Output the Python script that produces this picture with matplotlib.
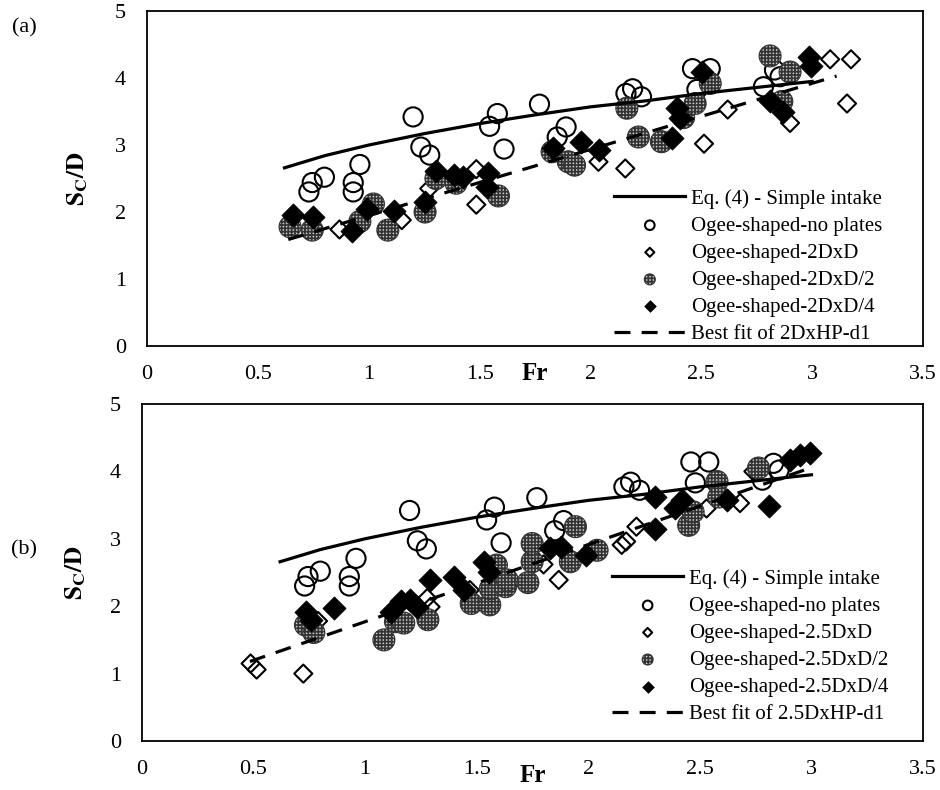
import matplotlib
matplotlib.use("Agg")
import matplotlib.pyplot as plt

plt.rcParams['font.family'] = ['Liberation Serif', 'DejaVu Serif']
plt.rcParams['mathtext.fontset'] = 'stix'
plt.rcParams['hatch.linewidth'] = 1.2
plt.rcParams['hatch.color'] = 'black'

# Eq. (4) - simple intake
eq_x = [0.62, 0.8, 1.0, 1.25, 1.5, 1.75, 2.0, 2.25, 2.5, 2.75, 3.0]
eq_y = [2.66, 2.84, 3.00, 3.17, 3.32, 3.45, 3.57, 3.66, 3.77, 3.86, 3.95]

# ogee-shaped, no plates (same in both panels)
np_x = [0.73, 0.745, 0.80, 0.93, 0.93, 0.96, 1.20, 1.235, 1.275, 1.545, 1.58, 1.61,
        1.77, 1.85, 1.89, 2.16, 2.19, 2.23, 2.46, 2.54, 2.48, 2.78, 2.83, 2.855]
np_y = [2.30, 2.44, 2.52, 2.30, 2.44, 2.71, 3.42, 2.97, 2.85, 3.28, 3.47, 2.94,
        3.61, 3.12, 3.27, 3.77, 3.84, 3.72, 4.14, 4.14, 3.83, 3.87, 4.12, 4.02]

# panel (a): 2DxD plates
a_full_x = [0.868, 1.149, 1.273, 1.485, 1.485, 2.036, 2.157, 2.512, 2.619, 2.90, 3.081, 3.175, 3.157]
a_full_y = [1.74, 1.88, 2.35, 2.64, 2.11, 2.75, 2.65, 3.02, 3.53, 3.33, 4.28, 4.28, 3.62]
a_half_x = [0.645, 0.745, 0.96, 1.021, 1.086, 1.254, 1.303, 1.394, 1.585, 1.827, 1.90,
            1.928, 2.164, 2.216, 2.32, 2.42, 2.472, 2.54, 2.81, 2.863, 2.90]
a_half_y = [1.78, 1.73, 1.86, 2.12, 1.73, 2.00, 2.50, 2.43, 2.24, 2.90, 2.75,
            2.70, 3.55, 3.12, 3.05, 3.41, 3.62, 3.92, 4.33, 3.65, 4.09]
a_quar_x = [0.658, 0.749, 0.923, 0.991, 1.112, 1.253, 1.303, 1.384, 1.424, 1.54, 1.535,
            1.833, 1.958, 2.039, 2.366, 2.392, 2.402, 2.502, 2.81, 2.87, 2.986, 2.996]
a_quar_y = [1.96, 1.93, 1.72, 2.05, 2.02, 2.15, 2.62, 2.55, 2.53, 2.59, 2.38,
            2.95, 3.05, 2.93, 3.10, 3.55, 3.40, 4.09, 3.65, 3.50, 4.32, 4.18]
a_fit_x = [0.637, 3.11]
a_fit_y = [1.59, 4.03]

# panel (b): 2.5DxD plates
b_full_x = [0.488, 0.515, 0.724, 0.79, 1.279, 1.294, 1.47, 1.80, 1.868, 2.15, 2.17,
            2.216, 2.53, 2.68, 2.74]
b_full_y = [1.15, 1.06, 1.00, 1.78, 2.12, 1.99, 2.24, 2.62, 2.39, 2.91, 2.96,
            3.18, 3.45, 3.53, 4.00]
b_half_x = [0.734, 0.771, 1.085, 1.137, 1.174, 1.282, 1.476, 1.559, 1.562, 1.589, 1.63,
            1.637, 1.73, 1.749, 1.749, 1.92, 1.943, 2.04, 2.45, 2.47, 2.577, 2.585, 2.763]
b_half_y = [1.72, 1.61, 1.50, 1.77, 1.75, 1.80, 2.04, 2.02, 2.26, 2.61, 2.29,
            2.39, 2.35, 2.66, 2.93, 2.66, 3.18, 2.83, 3.20, 3.40, 3.85, 3.62, 4.05]
b_quar_x = [0.734, 0.757, 0.861, 1.115, 1.16, 1.204, 1.234, 1.29, 1.40, 1.443, 1.532,
            1.555, 1.83, 1.876, 1.99, 2.30, 2.30, 2.39, 2.42, 2.62, 2.81, 2.905, 2.95, 2.995]
b_quar_y = [1.92, 1.80, 1.97, 1.92, 2.07, 2.09, 1.99, 2.39, 2.44, 2.24, 2.66,
            2.51, 2.86, 2.88, 2.76, 3.62, 3.15, 3.45, 3.58, 3.58, 3.48, 4.17, 4.24, 4.27]
b_fit_x = [0.485, 2.994]
b_fit_y = [1.18, 4.05]

x_ticks = [0, 0.5, 1, 1.5, 2, 2.5, 3, 3.5]
x_tick_labels = ['0', '0.5', '1', '1.5', '2', '2.5', '3', '3.5']
y_ticks = [0, 1, 2, 3, 4, 5]


def panel(ax, full, half, quar, fit, tag):
    ax.scatter(np_x, np_y, s=190, marker='o', facecolors='none', edgecolors='black',
               linewidths=1.5, label='Ogee-shaped-no plates', zorder=2)
    ax.scatter(full[0], full[1], s=85, marker='D', facecolors='none', edgecolors='black',
               linewidths=1.5, label='Ogee-shaped-' + tag, zorder=3)
    ax.scatter(half[0], half[1], s=250, marker='o', facecolors='#c8c8c8', edgecolors='#333333',
               linewidths=0.8, hatch='+++++', label='Ogee-shaped-' + tag + '/2', zorder=4)
    ax.scatter(quar[0], quar[1], s=140, marker='D', facecolors='black', edgecolors='black',
               linewidths=0.5, label='Ogee-shaped-' + tag + '/4', zorder=5)
    ax.plot(eq_x, eq_y, color='black', lw=2.3, label='Eq. (4) - Simple intake', zorder=6)
    ax.plot(fit[0], fit[1], color='black', lw=2.3, dashes=(5, 3.5),
            label='Best fit of ' + tag.replace('xD', 'xHP-d1'), zorder=6)

    ax.set_xlim(0, 3.5)
    ax.set_ylim(0, 5)
    ax.set_xticks(x_ticks)
    ax.set_xticklabels(x_tick_labels)
    ax.set_yticks(y_ticks)
    ax.tick_params(axis='both', length=0, labelsize=16)
    ax.tick_params(axis='x', pad=14)
    ax.tick_params(axis='y', pad=15)
    for sp in ax.spines.values():
        sp.set_linewidth(1.3)

    ax.set_ylabel(r'$\mathbf{S_C/D}$', fontsize=18)
    ax.set_xlabel('Fr', fontsize=18, fontweight='bold')
    ax.xaxis.label.set_va('center')

    h, lab = ax.get_legend_handles_labels()
    order = [4, 0, 1, 2, 3, 5]
    return [h[i] for i in order], [lab[i] for i in order]


fig = plt.figure(figsize=(9.4, 7.9), dpi=100)
ax1 = fig.add_axes([0.1564, 0.562, 0.8256, 0.424])
ax2 = fig.add_axes([0.1507, 0.062, 0.8313, 0.4266])

h, lab = panel(ax1, (a_full_x, a_full_y), (a_half_x, a_half_y), (a_quar_x, a_quar_y),
               (a_fit_x, a_fit_y), '2DxD')
ax1.legend(h, lab, loc='lower right', bbox_to_anchor=(0.948, 0.006), frameon=False,
           fontsize=15, markerscale=0.5, handlelength=3.4, handletextpad=0.3,
           labelspacing=0.36, borderpad=0, borderaxespad=0)
ax1.xaxis.set_label_coords(0.5, -0.081)
ax1.yaxis.set_label_coords(-0.073, 0.5)

h, lab = panel(ax2, (b_full_x, b_full_y), (b_half_x, b_half_y), (b_quar_x, b_quar_y),
               (b_fit_x, b_fit_y), '2.5DxD')
ax2.legend(h, lab, loc='lower right', bbox_to_anchor=(0.956, 0.05), frameon=False,
           fontsize=15, markerscale=0.5, handlelength=3.4, handletextpad=0.3,
           labelspacing=0.36, borderpad=0, borderaxespad=0)
ax2.xaxis.set_label_coords(0.5, -0.101)
ax2.yaxis.set_label_coords(-0.069, 0.5)

fig.text(24 / 940, 1 - 28 / 790, '(a)', fontsize=16, ha='center', va='center')
fig.text(24 / 940, 1 - 550 / 790, '(b)', fontsize=16, ha='center', va='center')

fig.savefig('out.png', dpi=100)
